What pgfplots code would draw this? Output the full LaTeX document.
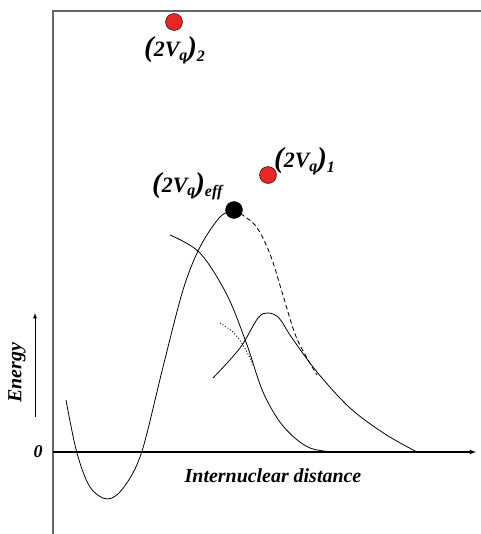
\documentclass[border=0pt]{standalone}
\usepackage{pgfplots}
\pgfplotsset{compat=1.18}
\usepackage{fontspec}
\setmainfont{Liberation Serif}
\newcommand{\lbl}[1]{{\fontsize{29}{29}\selectfont(}2V\raisebox{-0.35ex}{\fontsize{16}{16}\selectfont q}{\fontsize{29}{29}\selectfont)}\raisebox{-0.45ex}{\fontsize{16}{16}\selectfont #1}}
\begin{document}
\begin{tikzpicture}
\begin{axis}[scale only axis, width=481bp, height=534bp,
  xmin=0, xmax=481, ymin=0, ymax=534, y dir=reverse,
  axis lines=none, clip=false]
% frame (gray, partially visible)
\addplot[gray!80!black, line width=1.2pt] coordinates {(53,534) (53,11) (481,11)};
% horizontal axis
\addplot[black, line width=1.1pt, -latex] coordinates {(53,452) (476,452)};
% energy arrow
\addplot[black, line width=0.9pt, -latex] coordinates {(35,417) (35,313)};
% main curve (solid)
\addplot[black, line width=0.8pt, smooth, tension=0.55] coordinates {
 (66,400) (76.7,452) (90,487) (107.7,499) (124,487) (141.7,452) (163,367) (183,290) (200,247) (220,217) (234,210)};
% dashed continuation
\addplot[black, line width=0.85pt, dash pattern=on 4.5pt off 3pt, smooth, tension=0.55] coordinates {
 (234,210) (255,225) (270,254) (282,292) (295,334) (307,358) (317,375)};
% descending curve
\addplot[black, line width=0.8pt, smooth, tension=0.55] coordinates {
 (170,235) (200,253) (227,295) (247,345) (263,392) (283,426) (310,448) (345,452.5)};
% hump curve
\addplot[black, line width=0.8pt, smooth, tension=0.55] coordinates {
 (213,378) (240,348) (258,318) (268,313) (279,318) (292,338) (317,372) (350,408) (385,434) (417,452)};
% dotted short curve
\addplot[black, line width=0.9pt, dash pattern=on 1pt off 2pt, smooth] coordinates {
 (220,323) (233,332) (243,345) (250,358) (253,365)};
% dots
\addplot[only marks, mark=*, mark size=8.5bp, mark options={fill=red!90!black!85, draw=none}] coordinates {(174,22) (268,175)};
\addplot[only marks, mark=*, mark size=8.5bp, black] coordinates {(234,210)};
% labels
\node[font=\bfseries\itshape\fontsize{20}{20}\selectfont, rotate=90] at (axis cs:17,373) {Energy};
\node[font=\bfseries\itshape\fontsize{18}{18}\selectfont] at (axis cs:38,452) {0};
\node[font=\bfseries\itshape\fontsize{20}{20}\selectfont] at (axis cs:273,476) {Internuclear distance};
\node[font=\bfseries\itshape\fontsize{22}{22}\selectfont, anchor=west, inner sep=0pt] at (axis cs:144,50) {\lbl{2}};
\node[font=\bfseries\itshape\fontsize{22}{22}\selectfont, anchor=west, inner sep=0pt] at (axis cs:152,186) {\lbl{eff}};
\node[font=\bfseries\itshape\fontsize{22}{22}\selectfont, anchor=west, inner sep=0pt] at (axis cs:274,161) {\lbl{1}};
\end{axis}
\pgfresetboundingbox
\useasboundingbox (current axis.south west) rectangle (current axis.north east);
\end{tikzpicture}
\end{document}
